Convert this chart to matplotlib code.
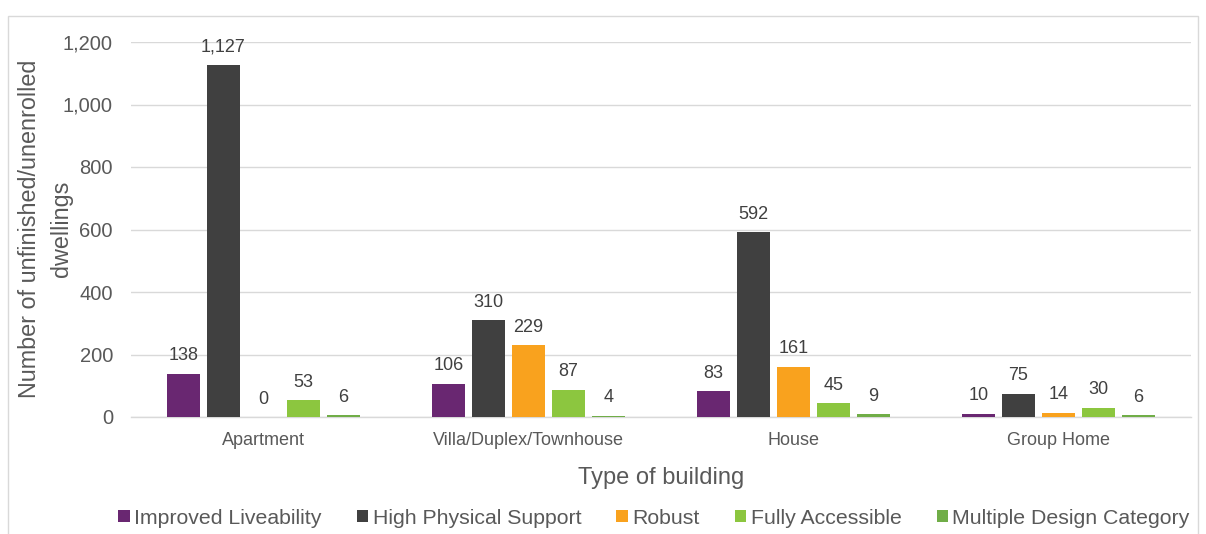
import matplotlib
matplotlib.use("Agg")
import matplotlib.pyplot as plt
import numpy as np
from matplotlib.patches import Rectangle

plt.rcParams['font.family'] = ['Liberation Sans', 'DejaVu Sans']

categories = ["Apartment", "Villa/Duplex/Townhouse", "House", "Group Home"]
series_names = ["Improved Liveability", "High Physical Support", "Robust",
                "Fully Accessible", "Multiple Design Category"]
improved = [138, 106, 83, 10]
high_phys = [1127, 310, 592, 75]
robust = [0, 229, 161, 14]
fully = [53, 87, 45, 30]
multiple = [6, 4, 9, 6]
values = [improved, high_phys, robust, fully, multiple]
colors = ["#692771", "#404040", "#F9A21E", "#8CC63F", "#70AD47"]

txt = "#595959"
fig = plt.figure(figsize=(12.06, 5.34), dpi=100)
ax = fig.add_axes([131/1206, 1-417/534, 1060/1206, 375/534])

x = np.arange(len(categories))
pitch = 0.151
width = 0.128
for i, (vals, c, name) in enumerate(zip(values, colors, series_names)):
    pos = x + (i - 2) * pitch
    ax.bar(pos, vals, width, color=c, label=name, zorder=3)
    for p, v in zip(pos, vals):
        ax.text(p, v + 30, f"{v:,}", ha="center", va="bottom", fontsize=13, color="#404040")

ax.set_xlim(-0.5, 3.5)
ax.set_ylim(0, 1200)
ax.set_yticks(range(0, 1201, 200))
ax.set_yticklabels([f"{v:,}" for v in range(0, 1201, 200)], fontsize=14.5, color=txt)
ax.set_xticks(x)
ax.set_xticklabels(categories, fontsize=13, color=txt)
ax.tick_params(axis='both', length=0)
ax.tick_params(axis='y', pad=13)
ax.tick_params(axis='x', pad=11)
ax.grid(axis='y', color="#D9D9D9", linewidth=1, zorder=0)
for s in ["top", "right", "left"]:
    ax.spines[s].set_visible(False)
ax.spines["bottom"].set_color("#D9D9D9")
ax.spines["bottom"].set_linewidth(1)

ax.set_xlabel("Type of building", fontsize=17, color=txt, labelpad=13)
fig.text(30/1206, 1-229/534, "Number of unfinished/unenrolled", rotation=90,
         ha="center", va="center", fontsize=16.8, color=txt)
fig.text(61/1206, 1-229/534, "dwellings", rotation=90,
         ha="center", va="center", fontsize=16.8, color=txt)

fig.legend(loc="center", bbox_to_anchor=(654/1206, 1-518/534), ncol=5, frameon=False,
           fontsize=15.3, handlelength=0.55, handleheight=0.55, handletextpad=0.2,
           columnspacing=1.65, labelcolor=txt)

fig.patches.append(Rectangle((8/1206, -0.1), 1190/1206, 1.1 - 16/534, transform=fig.transFigure,
                             fill=False, edgecolor="#D9D9D9", linewidth=1))

fig.savefig("out.png", dpi=100, facecolor="white")
